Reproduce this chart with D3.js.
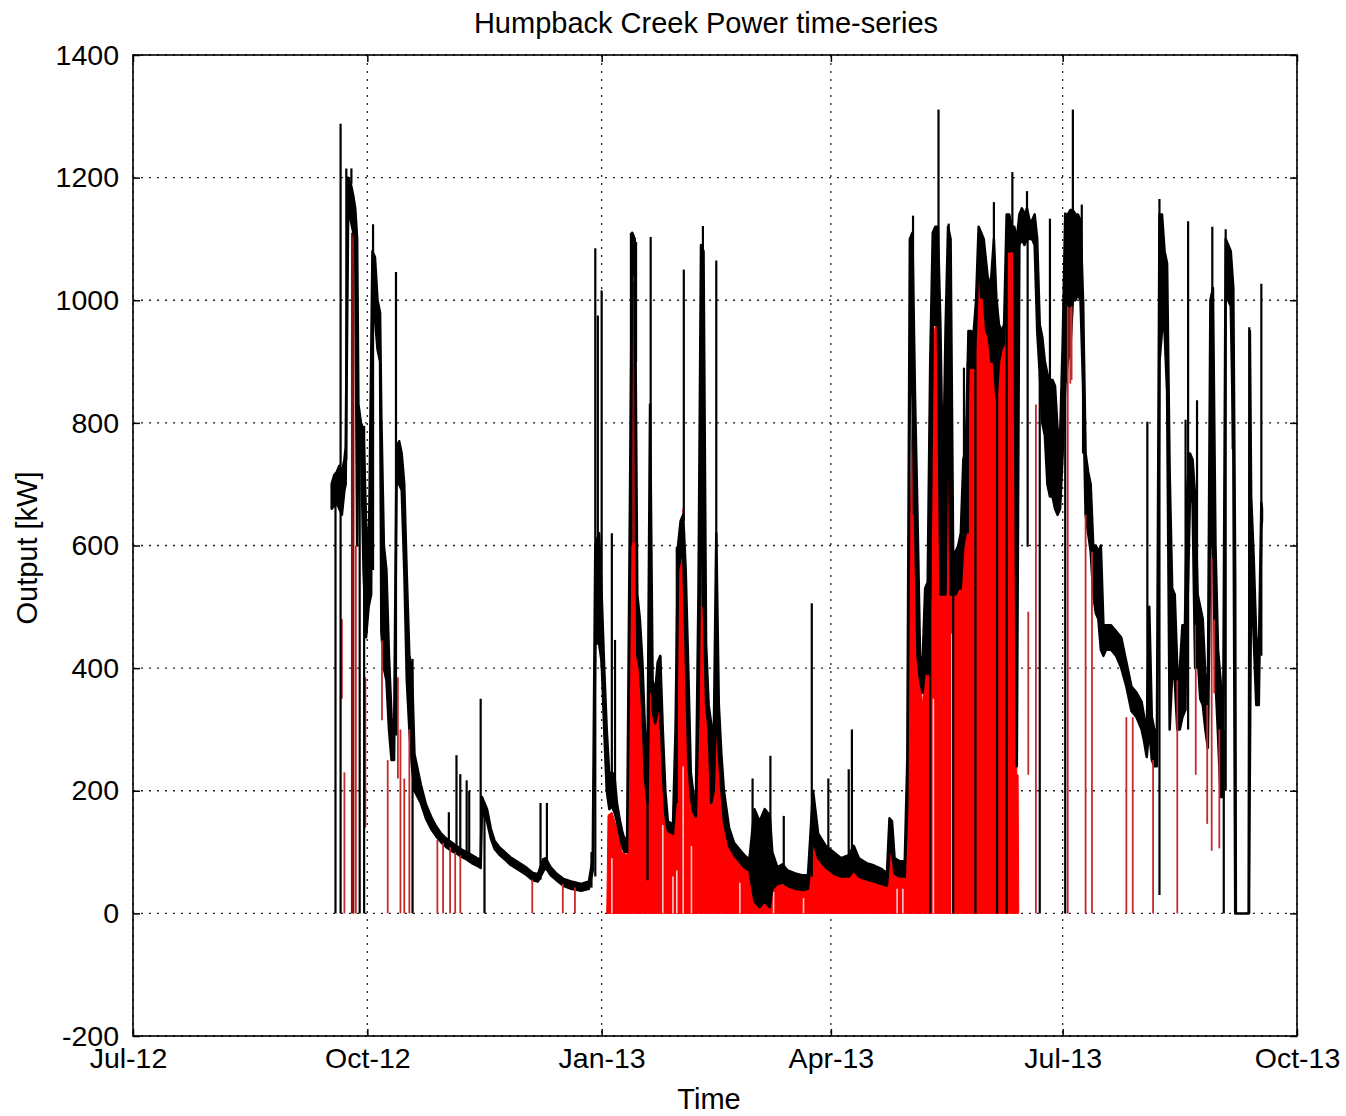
<!DOCTYPE html>
<html><head><meta charset="utf-8">
<script src="https://cdn.jsdelivr.net/npm/d3@7"></script>
<style>
body{margin:0;background:#fff}
text{font-family:"Liberation Sans",Arial,Helvetica,sans-serif;fill:#000}
</style>
</head><body>
<svg id="chart" width="1346" height="1116"></svg>
<script>
// ---------------- DATA ----------------
const chartTitle = "Humpback Creek Power time-series";
const xLabel = "Time";
const yLabel = "Output [kW]";
const yTicks = [-200, 0, 200, 400, 600, 800, 1000, 1200, 1400];
const xTickDates = ["2012-07-01", "2012-10-01", "2013-01-01", "2013-04-01", "2013-07-01", "2013-10-01"];
const xTickLabels = ["Jul-12", "Oct-12", "Jan-13", "Apr-13", "Jul-13", "Oct-13"];

// black power trace: [time, low, high] of the dense oscillation band
const powerBand = [
["2012-09-17 00",660,700],["2012-09-18 00",665,715],["2012-09-19 00",670,720],["2012-09-20 00",660,730],
["2012-09-21 00",650,720],["2012-09-22 00",690,740],["2012-09-22 12",700,760],["2012-09-23 12",1150,1200],
["2012-09-24 12",1130,1190],["2012-09-25 12",1110,1170],["2012-09-26 06",1100,1150],["2012-09-27 00",600,1100],
["2012-09-27 12",790,830],["2012-09-28 12",780,800],["2012-09-29 12",560,790],["2012-09-30 12",450,640],
["2012-10-01 12",500,560],["2012-10-02 12",520,900],["2012-10-03 00",960,1080],["2012-10-04 00",970,1070],
["2012-10-05 00",920,1000],["2012-10-06 00",900,980],["2012-10-06 12",460,810],["2012-10-07 12",400,600],
["2012-10-08 12",380,560],["2012-10-09 12",300,420],["2012-10-10 12",250,320],["2012-10-11 12",250,290],
["2012-10-12 12",700,760],["2012-10-13 12",700,770],["2012-10-14 12",690,750],["2012-10-15 12",560,700],
["2012-10-16 12",380,550],["2012-10-17 12",300,420],["2012-10-18 12",240,400],["2012-10-19 12",200,260],
["2012-10-22 00",180,210],["2012-10-24 00",155,178],["2012-10-26 00",138,158],["2012-10-28 00",126,142],
["2012-10-30 00",116,130],["2012-11-01 00",108,122],["2012-11-03 00",102,116],["2012-11-05 00",98,110],
["2012-11-07 00",92,104],["2012-11-09 00",88,100],["2012-11-11 00",82,95],["2012-11-13 00",78,90],
["2012-11-14 12",74,88],["2012-11-15 00",165,190],["2012-11-17 00",150,170],["2012-11-18 12",122,138],
["2012-11-20 00",105,118],["2012-11-22 00",95,107],["2012-11-24 00",88,100],["2012-11-26 00",80,92],
["2012-11-29 00",72,84],["2012-12-02 00",64,76],["2012-12-05 00",54,66],["2012-12-07 00",52,64],
["2012-12-09 00",68,88],["2012-12-10 00",75,90],["2012-12-12 00",62,75],["2012-12-14 00",55,66],
["2012-12-17 00",45,56],["2012-12-20 00",40,52],["2012-12-24 00",37,48],["2012-12-27 00",40,52],
["2012-12-28 12",70,90],["2012-12-29 12",440,600],["2012-12-31 00",440,620],["2013-01-01 00",410,520],
["2013-01-02 00",300,400],["2013-01-03 00",200,300],["2013-01-04 00",170,225],["2013-01-05 00",175,230],
["2013-01-06 00",165,225],["2013-01-07 00",150,180],["2013-01-08 00",130,155],["2013-01-09 00",110,135],
["2013-01-10 00",100,120],["2013-01-11 00",100,125],["2013-01-12 00",500,620],["2013-01-13 00",1060,1110],
["2013-01-14 00",1040,1100],["2013-01-15 00",420,520],["2013-01-16 00",400,480],["2013-01-17 00",330,410],
["2013-01-18 00",220,300],["2013-01-19 00",180,240],["2013-01-20 00",500,830],["2013-01-21 00",330,380],
["2013-01-22 00",310,360],["2013-01-23 00",330,410],["2013-01-24 00",340,420],["2013-01-25 00",230,300],
["2013-01-26 00",160,200],["2013-01-27 00",135,150],["2013-01-29 00",130,145],["2013-01-30 00",180,300],
["2013-01-31 00",560,600],["2013-02-01 00",580,640],["2013-02-02 00",590,650],["2013-02-03 00",420,560],
["2013-02-04 00",250,400],["2013-02-05 00",190,230],["2013-02-06 00",165,195],["2013-02-07 00",158,185],
["2013-02-08 00",330,520],["2013-02-09 00",700,1090],["2013-02-10 00",520,1080],["2013-02-11 00",340,440],
["2013-02-12 00",300,340],["2013-02-13 00",180,310],["2013-02-14 00",200,280],["2013-02-15 00",340,620],
["2013-02-16 00",260,340],["2013-02-17 00",200,260],["2013-02-18 00",150,200],["2013-02-20 00",110,140],
["2013-02-22 00",95,115],["2013-02-24 00",85,105],["2013-02-26 00",75,95],["2013-02-28 00",70,88],
["2013-03-02 00",20,170],["2013-03-04 00",10,150],["2013-03-06 00",20,170],["2013-03-08 00",10,160],
["2013-03-09 00",40,100],["2013-03-11 00",48,75],["2013-03-13 00",50,80],["2013-03-15 00",45,70],
["2013-03-18 00",40,65],["2013-03-21 00",38,62],["2013-03-23 00",40,62],["2013-03-25 00",120,200],
["2013-03-27 00",90,130],["2013-03-30 00",75,110],["2013-04-02 00",65,100],["2013-04-05 00",60,90],
["2013-04-08 00",60,95],["2013-04-10 00",70,110],["2013-04-12 00",60,90],["2013-04-15 00",55,82],
["2013-04-18 00",52,78],["2013-04-21 00",48,72],["2013-04-23 00",45,65],["2013-04-24 00",100,155],
["2013-04-25 00",100,150],["2013-04-26 00",65,90],["2013-04-28 00",60,85],["2013-04-30 00",60,85],
["2013-05-01 00",180,250],["2013-05-02 00",850,1100],["2013-05-03 00",850,1110],["2013-05-04 00",650,850],
["2013-05-05 00",420,650],["2013-05-06 00",380,420],["2013-05-07 00",360,410],["2013-05-08 00",400,530],
["2013-05-09 00",390,540],["2013-05-10 00",520,900],["2013-05-11 00",960,1110],["2013-05-12 00",960,1120],
["2013-05-13 00",960,1120],["2013-05-14 00",520,960],["2013-05-15 00",520,700],["2013-05-16 00",520,950],
["2013-05-17 00",900,1120],["2013-05-18 00",520,1100],["2013-05-19 00",520,590],["2013-05-20 00",520,590],
["2013-05-21 00",530,600],["2013-05-22 00",530,620],["2013-05-23 00",600,740],["2013-05-24 00",620,760],
["2013-05-25 00",890,950],["2013-05-26 00",890,950],["2013-05-27 00",890,945],["2013-05-28 00",950,1000],
["2013-05-29 00",1080,1120],["2013-05-30 00",1005,1110],["2013-05-31 00",1005,1100],["2013-06-01 00",950,1060],
["2013-06-02 00",940,1020],["2013-06-03 00",900,1040],["2013-06-04 00",900,1100],["2013-06-05 00",840,1000],
["2013-06-06 00",900,960],["2013-06-07 00",920,950],["2013-06-08 00",930,960],["2013-06-09 00",1080,1140],
["2013-06-10 00",1080,1140],["2013-06-11 00",1080,1120],["2013-06-12 00",1080,1120],["2013-06-13 00",240,1100],
["2013-06-14 00",1090,1140],["2013-06-15 00",1100,1150],["2013-06-16 00",1090,1140],["2013-06-17 00",1100,1150],
["2013-06-18 00",1100,1130],["2013-06-19 00",1100,1130],["2013-06-20 00",1090,1140],["2013-06-21 00",950,1100],
["2013-06-22 00",880,960],["2013-06-23 00",800,940],["2013-06-24 00",780,900],["2013-06-25 00",700,880],
["2013-06-26 00",680,870],["2013-06-27 00",680,870],["2013-06-28 00",660,860],["2013-06-29 00",650,790],
["2013-06-30 00",660,780],["2013-07-01 00",750,930],["2013-07-02 00",860,1140],["2013-07-03 00",900,1140],
["2013-07-04 00",920,1147],["2013-07-05 00",1000,1147],["2013-07-06 00",1000,1140],["2013-07-07 00",1010,1140],
["2013-07-08 00",1000,1130],["2013-07-09 00",860,1000],["2013-07-10 00",650,750],["2013-07-11 00",620,720],
["2013-07-12 00",590,700],["2013-07-13 00",520,600],["2013-07-14 00",490,600],["2013-07-15 00",480,590],
["2013-07-16 00",430,600],["2013-07-17 00",420,470],["2013-07-18 00",430,470],["2013-07-20 00",430,470],
["2013-07-22 00",420,460],["2013-07-24 00",400,450],["2013-07-26 00",370,410],["2013-07-28 00",330,370],
["2013-07-30 00",320,360],["2013-08-01 00",300,345],["2013-08-02 00",280,320],["2013-08-03 00",255,300],
["2013-08-04 00",300,500],["2013-08-05 00",250,320],["2013-08-06 00",240,300],["2013-08-07 00",240,290],
["2013-08-08 00",900,1140],["2013-08-09 00",950,1140],["2013-08-10 00",950,1080],["2013-08-11 00",850,1060],
["2013-08-12 00",300,720],["2013-08-13 00",390,530],["2013-08-14 00",380,520],["2013-08-15 00",300,400],
["2013-08-16 00",300,400],["2013-08-17 00",320,470],["2013-08-18 00",330,470],["2013-08-19 00",500,700],
["2013-08-20 00",680,750],["2013-08-21 00",670,740],["2013-08-22 00",400,680],["2013-08-23 00",420,520],
["2013-08-24 00",350,500],["2013-08-25 00",340,480],["2013-08-26 00",300,390],["2013-08-27 00",270,360],
["2013-08-28 00",600,1000],["2013-08-29 00",600,1020],["2013-08-30 00",380,600],["2013-08-31 00",290,430],
["2013-09-01 00",190,380],["2013-09-02 00",190,300],["2013-09-03 00",1020,1100],["2013-09-04 00",1000,1090],
["2013-09-05 00",990,1080],["2013-09-06 00",760,1020],["2013-09-06 18",0,540],["2013-09-07 00",0,0],
["2013-09-12 00",0,0],["2013-09-12 12",240,950],["2013-09-13 00",560,680],["2013-09-14 00",450,580],
["2013-09-15 00",340,450],["2013-09-16 00",340,420],["2013-09-17 00",630,670],["2013-09-17 06",640,660]
];

// black power trace: isolated excursions [time, from, to]
const powerSpikes = [
["2012-09-18 12",0,700],["2012-09-20 12",0,1288],["2012-09-22 18",740,1215],["2012-09-24 18",1190,1215],
["2012-09-28 00",0,795],["2012-09-29 18",0,795],["2012-10-03 06",560,1124],["2012-10-12 06",290,1046],
["2012-10-18 18",0,415],["2012-11-02 00",110,165],["2012-11-05 00",100,258],["2012-11-06 12",95,227],
["2012-11-09 00",88,217],["2012-11-10 00",85,200],["2012-11-14 12",75,350],["2012-11-16 00",0,170],
["2012-12-08 00",55,180],["2012-12-10 12",70,180],["2012-12-28 00",42,100],["2012-12-29 12",60,1085],
["2012-12-30 12",460,975],["2013-01-01 00",400,1016],
["2013-01-05 00",180,620],["2013-01-06 06",170,446],["2013-01-12 12",600,1110],["2013-01-14 12",900,1095],
["2013-01-19 00",54,240],["2013-01-20 06",360,1103],["2013-01-24 00",300,420],["2013-01-30 12",180,598],
["2013-02-02 06",640,1050],["2013-02-09 18",500,1121],["2013-02-15 00",340,1065],["2013-03-01 06",70,220],
["2013-03-08 06",80,257],["2013-03-13 12",60,159],["2013-03-24 12",60,506],["2013-03-31 00",80,220],
["2013-04-08 00",80,235],["2013-04-09 06",80,300],
["2013-05-03 06",850,1138],["2013-05-10 00",0,900],["2013-05-13 06",960,1311],["2013-05-17 06",900,1125],
["2013-05-19 00",0,590],["2013-05-23 06",600,890],["2013-05-24 18",620,899],["2013-05-27 18",0,945],
["2013-06-04 00",900,1160],["2013-06-05 06",0,1000],["2013-06-09 00",0,1080],["2013-06-11 06",1100,1209],
["2013-06-17 00",1100,1178],["2013-06-17 06",598,1100],["2013-06-22 00",0,880],["2013-06-26 00",870,1133],
["2013-07-02 00",0,1143],["2013-07-05 00",1000,1311],["2013-07-08 12",1000,1156],["2013-07-09 00",750,1000],
["2013-08-03 06",300,802],["2013-08-08 00",30,1165],["2013-08-18 06",330,805],["2013-08-19 06",300,1129],
["2013-08-22 18",400,837],["2013-08-28 18",600,1120],["2013-09-02 06",0,300],["2013-09-03 00",200,1116],
["2013-09-05 18",757,1023],["2013-09-12 06",0,956],["2013-09-17 00",420,1027]
];

// red trace: filled envelope [time, value]
const redFill = [
["2013-01-03 00",0],["2013-01-03 12",160],["2013-01-05 00",165],["2013-01-07 00",140],["2013-01-09 00",100],
["2013-01-11 00",95],["2013-01-12 00",550],["2013-01-13 00",1030],["2013-01-14 00",1000],["2013-01-15 00",470],
["2013-01-16 00",420],["2013-01-17 00",360],["2013-01-18 00",230],["2013-01-19 00",180],["2013-01-20 00",750],
["2013-01-21 00",340],["2013-01-22 00",320],["2013-01-23 00",350],["2013-01-24 00",360],["2013-01-25 00",240],
["2013-01-26 00",160],["2013-01-27 00",135],["2013-01-29 00",130],["2013-01-30 00",200],["2013-01-31 00",560],
["2013-02-01 00",580],["2013-02-02 00",660],["2013-02-03 00",430],["2013-02-04 00",260],["2013-02-05 00",190],
["2013-02-06 00",165],["2013-02-07 00",158],["2013-02-08 00",340],["2013-02-09 00",880],["2013-02-10 00",540],
["2013-02-11 00",340],["2013-02-12 00",300],["2013-02-13 00",190],["2013-02-14 00",210],["2013-02-15 00",350],
["2013-02-16 00",260],["2013-02-17 00",200],["2013-02-18 00",150],["2013-02-20 00",110],["2013-02-22 00",95],
["2013-02-24 00",85],["2013-02-26 00",75],["2013-02-28 00",70],["2013-03-02 00",60],["2013-03-09 00",50],
["2013-03-11 00",48],["2013-03-15 00",45],["2013-03-21 00",38],["2013-03-23 00",40],["2013-03-25 00",120],
["2013-03-27 00",90],["2013-03-30 00",75],["2013-04-05 00",60],["2013-04-10 00",70],["2013-04-15 00",55],
["2013-04-21 00",48],["2013-04-23 00",45],["2013-04-24 00",100],["2013-04-25 00",100],["2013-04-26 00",65],
["2013-04-30 00",60],["2013-05-01 00",180],["2013-05-02 00",600],["2013-05-03 00",846],["2013-05-04 00",650],
["2013-05-05 00",420],["2013-05-06 00",380],["2013-05-07 00",340],["2013-05-08 00",400],["2013-05-09 00",390],
["2013-05-10 00",520],["2013-05-11 00",930],["2013-05-12 00",960],["2013-05-13 00",960],["2013-05-14 00",540],
["2013-05-15 00",520],["2013-05-16 00",560],["2013-05-17 00",880],["2013-05-18 00",700],["2013-05-19 00",520],
["2013-05-20 00",520],["2013-05-21 00",530],["2013-05-22 00",530],["2013-05-23 00",600],["2013-05-24 00",640],
["2013-05-25 00",890],["2013-05-26 00",890],["2013-05-27 00",890],["2013-05-28 00",950],["2013-05-29 00",1060],
["2013-05-30 00",1005],["2013-05-31 00",1005],["2013-06-01 00",950],["2013-06-02 00",930],["2013-06-03 00",900],
["2013-06-04 00",900],["2013-06-05 00",840],["2013-06-06 00",900],["2013-06-07 00",920],["2013-06-08 00",930],
["2013-06-09 00",1070],["2013-06-10 00",1080],["2013-06-11 00",1080],["2013-06-12 00",1070],["2013-06-13 00",226],
["2013-06-13 12",226],["2013-06-13 18",0]
];

// red trace: isolated excursions [time, from, to]
const redLines = [
["2012-09-21 00",350,480],["2012-09-22 00",0,230],["2012-09-26 12",0,600],["2012-09-30 06",140,385],
["2012-10-06 18",315,445],["2012-10-09 00",0,250],["2012-10-13 00",220,385],["2012-10-14 00",0,300],
["2012-10-15 12",0,220],["2012-10-17 12",0,300],["2012-10-28 12",0,120],["2012-10-30 18",0,115],
["2012-11-02 12",0,108],["2012-11-04 12",0,100],["2012-11-06 12",0,95],["2012-12-04 18",0,55],
["2012-12-16 18",0,48],["2012-12-21 12",0,42],
["2013-06-17 12",226,492],["2013-06-20 12",0,830],["2013-07-03 00",0,990],["2013-07-04 00",864,988],
["2013-07-04 12",870,990],["2013-07-10 00",0,650],["2013-07-12 12",0,590],["2013-07-26 00",0,320],
["2013-07-28 12",0,320],["2013-08-05 12",0,250],["2013-08-15 00",0,380],["2013-08-22 06",226,470],
["2013-08-26 18",146,340],["2013-08-28 12",102,580],["2013-08-29 12",359,479],["2013-08-31 12",106,300]
];

// red trace where it overlaps sparse black oscillation [time, from, to]
const redShade = [
["2012-09-25 06",0,1110],["2013-01-13 12",605,1030],["2013-02-09 12",520,970],["2013-05-03 12",650,846]
];

// light gaps inside the red envelope [time, top]
const redGaps = [
["2013-01-05 00",90],["2013-01-25 00",144],["2013-01-29 00",60],["2013-01-30 12",70],["2013-02-02 00",240],
["2013-02-05 06",110],["2013-02-24 06",50],["2013-03-09 12",35],["2013-03-21 06",25],["2013-04-27 00",40],
["2013-04-29 06",40],["2013-05-11 06",350],["2013-05-18 12",456]
];

// ---------------- DRAWING ----------------
const parseH = d3.timeParse("%Y-%m-%d %H");
const parseD = d3.timeParse("%Y-%m-%d");
const parse = s => parseH(s) || parseD(s);

const L = 133, R = 1297, T = 55, B = 1036;
const x = d3.scaleTime().domain([parse("2012-07-01"), parse("2013-10-01")]).range([L, R]);
const y = d3.scaleLinear().domain([-200, 1400]).range([B, T]);

const svg = d3.select("#chart");

// grid
const grid = svg.append("g").attr("stroke", "#222").attr("stroke-width", 1.3).attr("stroke-dasharray", "2,6");
grid.selectAll("line.h").data(yTicks).join("line").attr("class", "h")
  .attr("x1", L).attr("x2", R).attr("y1", d => y(d)).attr("y2", d => y(d));
grid.selectAll("line.v").data(xTickDates).join("line").attr("class", "v")
  .attr("x1", d => x(parse(d))).attr("x2", d => x(parse(d))).attr("y1", T).attr("y2", B);

const plot = svg.append("g");

// red envelope
plot.append("path").datum(redFill)
  .attr("fill", "#ff0000").attr("stroke", "#ff0000").attr("stroke-width", 1)
  .attr("d", d3.area().x(d => x(parse(d[0]))).y0(y(0)).y1(d => y(d[1])));

plot.selectAll("line.gap").data(redGaps).join("line").attr("class", "gap")
  .attr("x1", d => x(parse(d[0]))).attr("x2", d => x(parse(d[0])))
  .attr("y1", y(0)).attr("y2", d => y(d[1]))
  .attr("stroke", "#f6c8c8").attr("stroke-width", 1.6);

plot.selectAll("line.shade").data(redShade).join("line").attr("class", "shade")
  .attr("x1", d => x(parse(d[0]))).attr("x2", d => x(parse(d[0])))
  .attr("y1", d => y(d[1])).attr("y2", d => y(d[2]))
  .attr("stroke", "#8a0f0f").attr("stroke-width", 3.5);

// black band
plot.append("path").datum(powerBand)
  .attr("fill", "#000").attr("stroke", "#000").attr("stroke-width", 2.5).attr("stroke-linejoin", "round")
  .attr("d", d3.area().x(d => x(parse(d[0]))).y0(d => y(d[1])).y1(d => y(d[2])));

// red excursions
plot.selectAll("line.red").data(redLines).join("line").attr("class", "red")
  .attr("x1", d => x(parse(d[0]))).attr("x2", d => x(parse(d[0])))
  .attr("y1", d => y(d[1])).attr("y2", d => y(d[2]))
  .attr("stroke", "#c42a2a").attr("stroke-width", 1.8);

// black spikes
plot.selectAll("line.spk").data(powerSpikes).join("line").attr("class", "spk")
  .attr("x1", d => x(parse(d[0]))).attr("x2", d => x(parse(d[0])))
  .attr("y1", d => y(d[1])).attr("y2", d => y(d[2]))
  .attr("stroke", "#000").attr("stroke-width", 2.2);

// axes (MATLAB style, inward ticks on all sides)
const fs = "28.5px";
const xb = svg.append("g").attr("transform", `translate(0,${B})`)
  .call(d3.axisBottom(x).tickValues(xTickDates.map(parse)).tickFormat((d, i) => xTickLabels[i])
    .tickSizeInner(-7).tickSizeOuter(0).tickPadding(12));
const xt = svg.append("g").attr("transform", `translate(0,${T})`)
  .call(d3.axisTop(x).tickValues(xTickDates.map(parse)).tickFormat("").tickSizeInner(-7).tickSizeOuter(0));
const yl = svg.append("g").attr("transform", `translate(${L},0)`)
  .call(d3.axisLeft(y).tickValues(yTicks).tickFormat(d => String(d)).tickSizeInner(-7).tickSizeOuter(0).tickPadding(14));
const yr = svg.append("g").attr("transform", `translate(${R},0)`)
  .call(d3.axisRight(y).tickValues(yTicks).tickFormat("").tickSizeInner(-7).tickSizeOuter(0));
[xb, xt, yl, yr].forEach(g => {
  g.select(".domain").remove();
  g.selectAll(".tick line").attr("stroke", "#000").attr("stroke-width", 1.5);
  g.selectAll("text").style("font-size", fs).style("font-family", '"Liberation Sans",Arial,sans-serif').attr("fill", "#000");
});
// keep the first x label clear of the bottom y label, as in the reference
xb.selectAll(".tick text").filter((d, i) => i === 0).attr("dx", "-5");

svg.append("rect").attr("x", L).attr("y", T).attr("width", R - L).attr("height", B - T)
  .attr("fill", "none").attr("stroke", "#000").attr("stroke-width", 1.6);

// titles
svg.append("text").attr("x", 706).attr("y", 33).attr("text-anchor", "middle")
  .style("font-size", "29px").text(chartTitle);
svg.append("text").attr("x", 709).attr("y", 1109).attr("text-anchor", "middle")
  .style("font-size", "29px").text(xLabel);
svg.append("text").attr("transform", "translate(37,548) rotate(-90)").attr("text-anchor", "middle")
  .style("font-size", "29px").text(yLabel);
</script>
</body></html>
